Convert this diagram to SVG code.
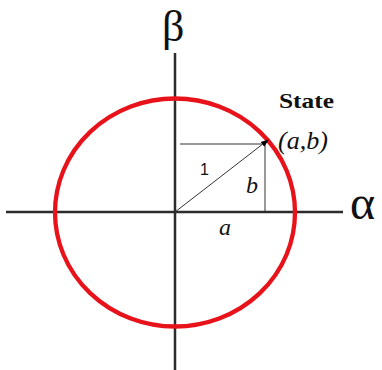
<svg xmlns="http://www.w3.org/2000/svg" width="382" height="370" viewBox="0 0 382 370">
<style>
.axis{stroke:#2b2b2b;stroke-width:2.5;fill:none}
.thin{stroke:#333;stroke-width:1;fill:none}
.circ{stroke:#e8121b;stroke-width:4.3;fill:none}
.serif{font-family:'Liberation Serif','Times New Roman',Times,serif;fill:#111}
.it{font-style:italic}
</style>
<defs>
<marker id="ah" markerWidth="8" markerHeight="8" refX="7" refY="4" orient="auto" markerUnits="userSpaceOnUse">
<path d="M0,1 L8,4 L0,7 Z" fill="#000"/>
</marker>
</defs>
<rect width="382" height="370" fill="#fff"/>
<g id="axes">
<line class="axis" x1="6" y1="212" x2="343" y2="212"/>
<line class="axis" x1="175" y1="53" x2="175" y2="370"/>
</g>
<g id="circle">
<ellipse class="circ" cx="175" cy="212.5" rx="120" ry="114"/>
</g>
<g id="connectors">
<line class="thin" x1="180" y1="144" x2="265" y2="144"/>
<line class="thin" x1="265" y1="144" x2="265" y2="212"/>
<line class="thin" x1="175" y1="212" x2="268" y2="140" marker-end="url(#ah)"/>
</g>
<g id="labels">
<text class="serif" x="162" y="41" font-size="44">β</text>
<text class="serif" x="350" y="219" font-size="48">α</text>
<text class="serif" x="279" y="108" font-weight="bold" font-size="22" textLength="55" lengthAdjust="spacingAndGlyphs">State</text>
<text class="serif it" x="278" y="149" font-size="26">(a,b)</text>
<text x="200" y="175" font-family="'Liberation Sans',Arial,sans-serif" font-size="16" fill="#111">1</text>
<text class="serif it" x="246" y="193" font-size="24">b</text>
<text class="serif it" x="219" y="235" font-size="24">a</text>
</g>
</svg>
